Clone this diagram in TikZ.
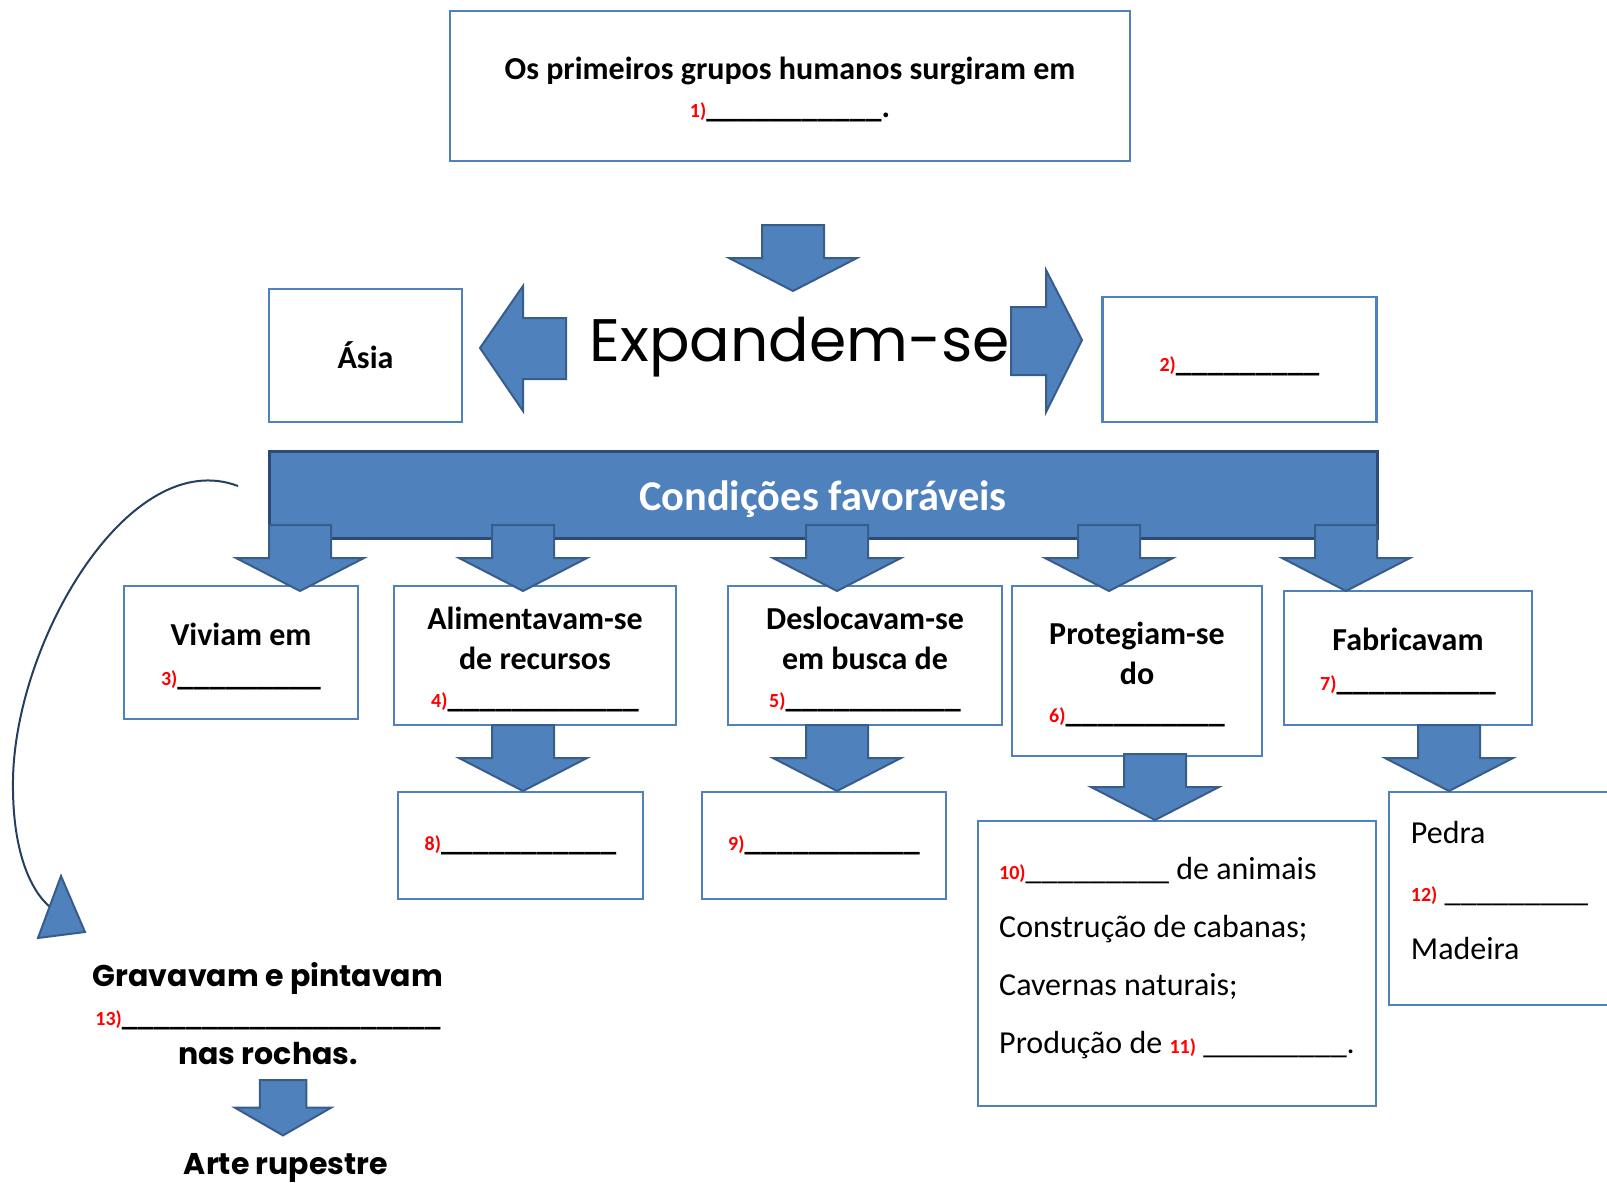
\documentclass[tikz,border=0pt]{standalone}
\usepackage{fontspec}
\setmainfont{Carlito}
\newfontfamily\gothic{Poppins}
\usetikzlibrary{positioning}
\definecolor{boxblue}{HTML}{4F81BD}
\definecolor{arrowfill}{HTML}{4F81BD}
\definecolor{arrowline}{HTML}{385D8A}
\definecolor{barline}{HTML}{2C4A75}
\definecolor{curveline}{HTML}{243F60}
\definecolor{numred}{HTML}{FF0000}
\newcommand{\qnum}[1]{{\fontsize{10}{12}\selectfont\bfseries\color{numred}#1}}
\newcommand{\topstrut}{\rule{0pt}{15pt}}
\ExplSyntaxOn
\NewDocumentCommand{\blank}{m}{\prg_replicate:nn{#1}{\textunderscore}}
\ExplSyntaxOff
\tikzset{
  downblock/.pic={\draw[blockarr] (-31,0) -- (31,0) -- (31,33) -- (64,33) -- (0,66) -- (-64,33) -- (-31,33) -- cycle;}
}

\begin{document}
\begin{tikzpicture}[x=0.5pt, y=-0.5pt,
  box/.style={draw=boxblue, line width=1.2pt, fill=white, align=center, inner sep=0pt, outer sep=0pt,
              font=\fontsize{16}{20}\selectfont\bfseries},
  listbox/.style={box, font=\fontsize{16}{29}\selectfont},
  bar/.style={draw=barline, line width=1.5pt, fill=arrowfill, text=white,
              font=\fontsize{21.2}{25}\selectfont\bfseries},
  blockarr/.style={fill=arrowfill, draw=arrowline, line width=1pt},
  curvearr/.style={draw=curveline, line width=1pt}
]
  \useasboundingbox (0,0) rectangle (1607,1183);

  % top
  \node[box, minimum width=340pt, minimum height=75pt] (origem) at (790,86)
    {\topstrut Os primeiros grupos humanos surgiram em\\[-1pt]\qnum{1)}\blank{11}.};
  \pic at (793,225) {downblock};

  % expansion
  \node[font=\gothic\fontsize{30}{36}\selectfont, anchor=base, inner sep=0pt] (expand) at (800,361) {Expandem-se};
  \node[box, minimum width=96.5pt, minimum height=66.5pt] (asia) at (365.5,355.5) {Ásia};
  \node[box, minimum width=137pt, minimum height=62.5pt, text height=11.7pt, text depth=0pt] (destino) at (1239.5,359.5)
    {\qnum{2)}\blank{9}};
  \draw[blockarr] (566,318) -- (523,318) -- (523,286) -- (480,348) -- (523,411) -- (523,379) -- (566,379) -- cycle;
  \draw[blockarr] (1011,307) -- (1046,307) -- (1046,270) -- (1082,340) -- (1046,412) -- (1046,375) -- (1011,375) -- cycle;

  % conditions
  \node[bar, minimum width=554pt, minimum height=43.5pt, text height=20pt, text depth=4pt] (cond) at (823,494.5)
    {Condições favoráveis};

  \node[box, minimum width=117pt, minimum height=66.5pt, anchor=north west] (viv) at (124,586)
    {\topstrut Viviam em\\\qnum{3)}\blank{9}};
  \node[box, minimum width=141pt, minimum height=69.5pt, right=18pt of viv.north east, anchor=north west] (alim)
    {\topstrut Alimentavam-se\\de recursos\\[-1pt]\qnum{4)}\blank{12}};
  \node[box, minimum width=137pt, minimum height=69.5pt, right=26pt of alim.north east, anchor=north west] (desl)
    {\topstrut Deslocavam-se\\em busca de\\[-1pt]\qnum{5)}\blank{11}};
  \node[box, minimum width=125pt, minimum height=85pt, right=5pt of desl.north east, anchor=north west] (prot)
    {\topstrut Protegiam-se\\do\\[-1pt]\qnum{6)}\blank{10}};
  \node[box, minimum width=124pt, minimum height=67pt, right=11pt of prot.north east, anchor=north west, yshift=-2.5pt] (fab)
    {\topstrut Fabricavam\\\qnum{7)}\blank{10}};

  \foreach \cx in {300,523,837,1109,1346}
    \pic at (\cx,525) {downblock};

  % second row
  \node[box, minimum width=122.5pt, minimum height=53.5pt] (recurso) at (520.5,845.5) {\qnum{8)}\blank{11}};
  \node[box, minimum width=122pt, minimum height=53.5pt] (busca) at (824,845.5) {\qnum{9)}\blank{11}};
  \node[listbox, minimum width=199pt, minimum height=142.5pt, anchor=north west] (abrigo) at (978,821)
    {\begin{tabular}{@{}l@{}}\qnum{10)}\blank{9} de animais\\Construção de cabanas;\\Cavernas naturais;\\
     Produção de \qnum{11)} \blank{9}.\\[9pt]\end{tabular}};
  \node[listbox, minimum width=110.5pt, minimum height=106.5pt, anchor=north west] (material) at (1389,792)
    {\begin{tabular}{@{}l@{}}Pedra\\\qnum{12)} \blank{9}\\Madeira\\[9pt]\end{tabular}};

  \pic at (523,725) {downblock};
  \pic at (837,725) {downblock};
  \pic at (1155,754) {downblock};
  \pic at (1449,725) {downblock};

  % rock art
  \coordinate (curvestart) at (238,486);
  \coordinate (curveend) at (50,907);
  \draw[curvearr] (curvestart) .. controls (130,445) and (15,640) .. (13,780) .. controls (12,850) and (30,890) .. (curveend);
  \draw[blockarr] (61,876) -- (85,932) -- (38,938) -- cycle;

  \node[font=\gothic\bfseries\fontsize{15}{19.5}\selectfont, align=center, inner sep=0pt, anchor=north] (grav) at (268,962)
    {Gravavam e pintavam\\{\rmfamily\bfseries\fontsize{16}{19.5}\selectfont\qnum{13)}\blank{20}}\\nas rochas.};
  \pic[xscale=0.75, yscale=0.84] at (283,1080) {downblock};
  \node[font=\gothic\bfseries\fontsize{15}{19.5}\selectfont, anchor=base, inner sep=0pt] (arte) at (286,1174) {Arte rupestre};
\end{tikzpicture}
\end{document}
